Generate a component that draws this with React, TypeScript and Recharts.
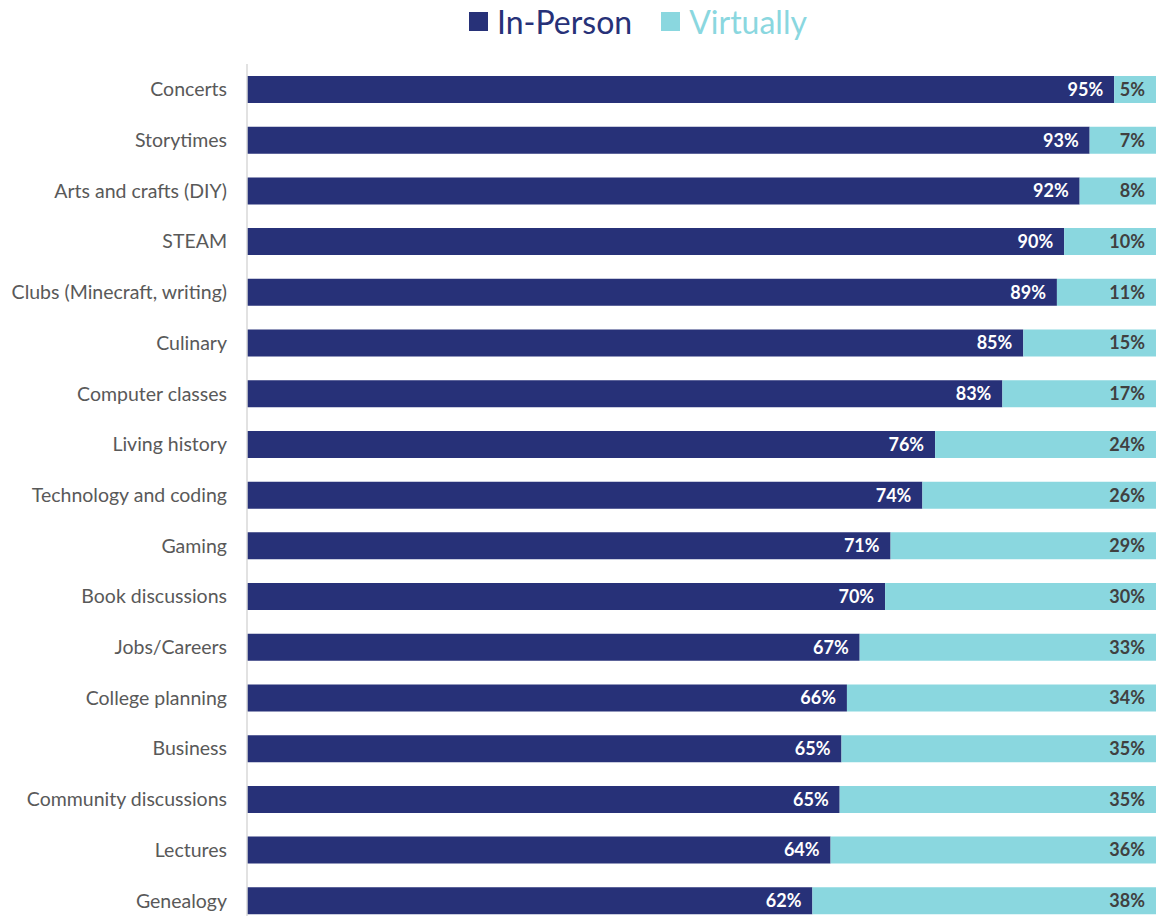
import React from 'react';
import { BarChart, Bar, XAxis, YAxis, LabelList } from 'recharts';

const categories = [
  'Concerts',
  'Storytimes',
  'Arts and crafts (DIY)',
  'STEAM',
  'Clubs (Minecraft, writing)',
  'Culinary',
  'Computer classes',
  'Living history',
  'Technology and coding',
  'Gaming',
  'Book discussions',
  'Jobs/Careers',
  'College planning',
  'Business',
  'Community discussions',
  'Lectures',
  'Genealogy',
];

const inPerson = [95.4, 92.7, 91.6, 89.9, 89.1, 85.4, 83.1, 75.7, 74.3, 70.8, 70.2, 67.4, 66.0, 65.4, 65.2, 64.2, 62.2];
const virtually = [4.6, 7.3, 8.4, 10.1, 10.9, 14.6, 16.9, 24.3, 25.7, 29.2, 29.8, 32.6, 34.0, 34.6, 34.8, 35.8, 37.8];

const NAVY = '#273178';
const AQUA = '#8ad7df';

const data = categories.map((name, i) => ({
  name,
  inPerson: inPerson[i],
  virtually: virtually[i],
}));

const pct = (v: any) => `${Math.round(Number(v))}%`;

const font = 'Lato, "Open Sans", sans-serif';

export default function App() {
  return (
    <div style={{ position: 'absolute', left: 0, top: 0, width: 1156, height: 926, fontFamily: font }}>
      {/* legend */}
      <div
        style={{
          position: 'absolute',
          top: 2,
          left: 469,
          display: 'flex',
          alignItems: 'center',
          fontSize: 32,
          gap: 29,
          whiteSpace: 'nowrap',
        }}
      >
        <div style={{ display: 'flex', alignItems: 'center', color: NAVY }}>
          <span style={{ width: 19, height: 19, background: NAVY, display: 'inline-block', marginRight: 9 }} />
          In-Person
        </div>
        <div style={{ display: 'flex', alignItems: 'center', color: AQUA }}>
          <span style={{ width: 19, height: 19, background: AQUA, display: 'inline-block', marginRight: 9 }} />
          Virtually
        </div>
      </div>
      <BarChart
        width={1156}
        height={926}
        data={data}
        layout="vertical"
        margin={{ top: 64, right: 0, bottom: 0, left: 0 }}
        barSize={27}
      >
        <XAxis type="number" domain={[0, 100]} hide />
        <YAxis
          type="category"
          dataKey="name"
          width={247}
          tickLine={false}
          tickSize={6}
          tickMargin={14}
          axisLine={{ stroke: '#d9d9d9', strokeWidth: 1.5 }}
          tick={{ fill: '#595959', fontSize: 19.5, fontFamily: font }}
          interval={0}
        />
        <Bar dataKey="inPerson" stackId="a" fill={NAVY} isAnimationActive={false}>
          <LabelList
            dataKey="inPerson"
            position="insideRight"
            offset={11}
            formatter={pct}
            fill="#ffffff"
            style={{ fontWeight: 700, fontSize: 18, fontFamily: font }}
          />
        </Bar>
        <Bar dataKey="virtually" stackId="a" fill={AQUA} isAnimationActive={false}>
          <LabelList
            dataKey="virtually"
            position="insideRight"
            offset={11}
            formatter={pct}
            fill="#404040"
            style={{ fontWeight: 700, fontSize: 18, fontFamily: font }}
          />
        </Bar>
      </BarChart>
    </div>
  );
}
